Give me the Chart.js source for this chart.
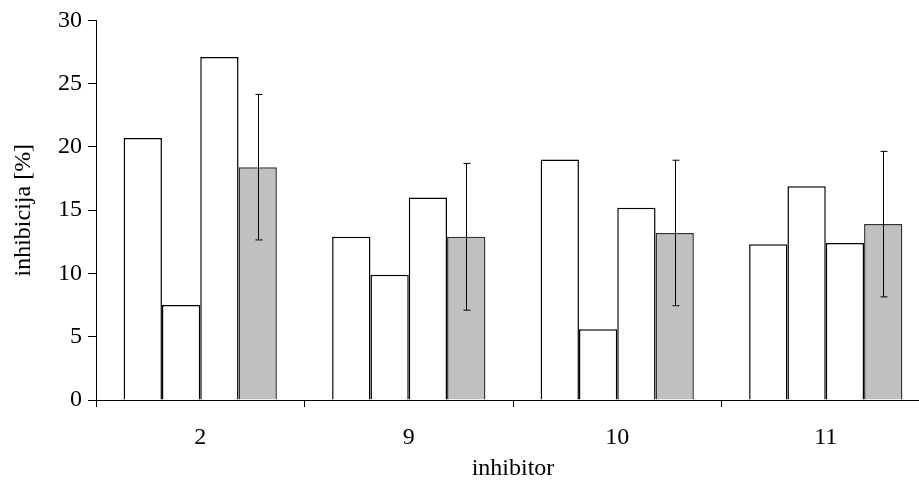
<!DOCTYPE html>
<html>
<head>
<meta charset="utf-8">
<script src="https://cdn.jsdelivr.net/npm/chart.js@4"></script>
<style>
  html, body { margin: 0; padding: 0; background: #fff; overflow: hidden; }
  #wrap { width: 919px; height: 485px; overflow: hidden; }
</style>
</head>
<body>
<div id="wrap"><canvas id="myChart" width="935" height="485"></canvas></div>
<script>
// podaci
var categories = ['2', '9', '10', '11'];
var series1 = [20.7, 12.9, 19.0, 12.3];
var series2 = [7.5, 9.9, 5.6, 16.9];
var series3 = [27.1, 16.0, 15.2, 12.4];
var means = [18.4, 12.9, 13.2, 13.9];
var errors = [5.75, 5.8, 5.75, 5.75];

var font = { family: 'Liberation Serif', size: 24 };

// error bars on the gray series
var errorBars = {
    id: 'errorBars',
    afterDatasetsDraw: function(chart) {
        var ctx = chart.ctx;
        var meta = chart.getDatasetMeta(3);
        var y = chart.scales.y;
        ctx.save();
        ctx.strokeStyle = '#000';
        ctx.lineWidth = 1;
        meta.data.forEach(function(bar, i) {
            var x = Math.round(bar.x) + 0.5;
            var top = y.getPixelForValue(means[i] + errors[i]);
            var bot = y.getPixelForValue(means[i] - errors[i]);
            ctx.beginPath();
            ctx.moveTo(x, top);
            ctx.lineTo(x, bot);
            ctx.moveTo(x - 3, top);
            ctx.lineTo(x + 4, top);
            ctx.moveTo(x - 3, bot);
            ctx.lineTo(x + 4, bot);
            ctx.stroke();
        });
        ctx.restore();
    }
};

function whiteSet(data) {
    return {
        data: data,
        backgroundColor: '#ffffff',
        borderColor: '#000000',
        borderWidth: 1.5,
        categoryPercentage: 0.735,
        barPercentage: 1
    };
}

var gray = whiteSet(means);
gray.backgroundColor = '#c0c0c0';
gray.borderColor = '#333333';

var ctx = document.getElementById('myChart').getContext('2d');
var myChart = new Chart(ctx, {
    type: 'bar',
    data: {
        labels: categories,
        datasets: [whiteSet(series1), whiteSet(series2), whiteSet(series3), gray]
    },
    options: {
        responsive: false,
        animation: false,
        layout: { padding: { top: 16, right: 5, left: 0, bottom: 0 } },
        plugins: { legend: { display: false }, tooltip: { enabled: false } },
        scales: {
            x: {
                grid: { drawOnChartArea: false, tickLength: 7, color: '#000' },
                border: { color: '#000', width: 1 },
                ticks: { font: font, color: '#000', padding: 16 },
                title: { display: true, text: 'inhibitor', font: font, color: '#000', padding: { top: 0, bottom: 2 } },
                afterFit: function(s) { s.height = 85; }
            },
            y: {
                min: 0,
                max: 30,
                grid: { drawOnChartArea: false, tickLength: 8, color: '#000' },
                border: { color: '#000', width: 1 },
                ticks: { stepSize: 5, font: font, color: '#000', padding: 6 },
                title: { display: true, text: 'inhibicija [%]', font: font, color: '#000', padding: { top: 9, bottom: 0 } },
                afterFit: function(s) { s.width = 96; }
            }
        }
    },
    plugins: [errorBars]
});
</script>
</body>
</html>
